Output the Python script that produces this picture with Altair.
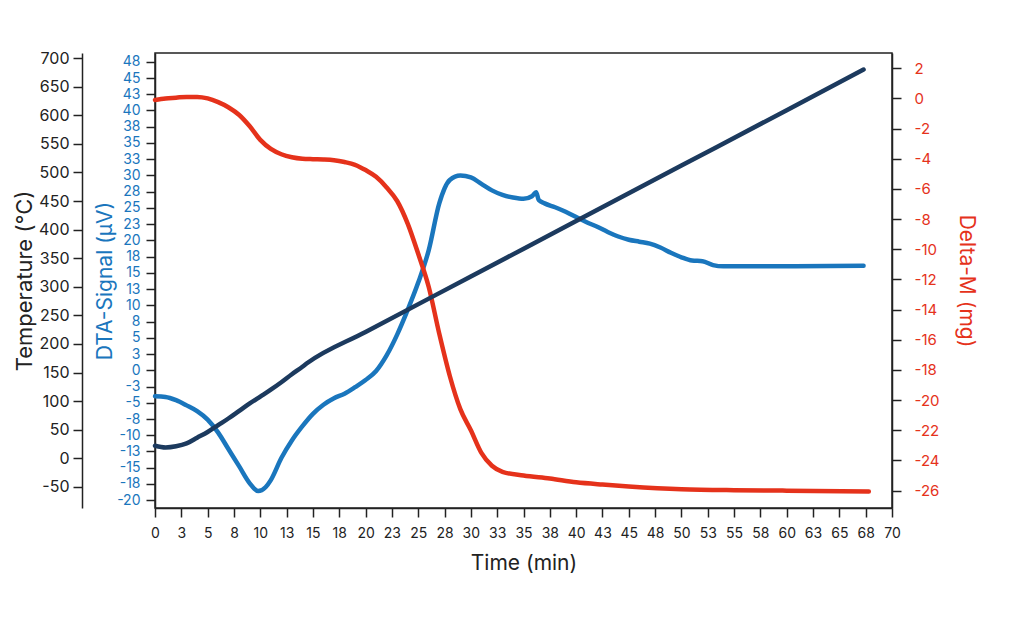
"""Thermal analysis plot: temperature, DTA signal and mass change vs time."""

import altair as alt
import pandas as pd

# Temperature programme (°C)
temp_time = [0, 1, 2, 3, 4, 5, 6, 7, 8, 9, 10, 11, 12, 13, 14, 14.5,
             20, 30, 40, 50, 60, 67.3]
temp_vals = [22, 19, 21, 26, 36, 46, 58, 70, 83, 96, 108, 120, 133, 147, 160, 167,
             221, 318, 415, 512, 609, 680]

# DTA signal (µV)
dta_time = [0, 1, 2, 3, 4, 5, 6, 7, 8, 9, 9.8, 10.5, 11, 12, 13, 14, 15, 16, 17,
            18, 19, 20, 21, 22, 23, 24, 25, 26, 27, 28, 29, 30, 31, 32, 33, 34, 35,
            35.8, 36.2, 36.45, 37, 38, 39, 40, 41, 42, 43, 44, 45, 46, 47, 48, 49,
            50, 51, 52, 53, 54, 60, 67.3]
dta_vals = [-4.0, -4.1, -4.6, -5.4, -6.3, -7.6, -9.6, -12.2, -14.8, -17.4, -18.6,
            -18.0, -16.9, -13.5, -10.8, -8.6, -6.7, -5.3, -4.3, -3.6, -2.6, -1.5,
            -0.1, 2.3, 5.5, 9.3, 13.5, 18.5, 25.7, 29.3, 30.0, 29.7, 28.7, 27.7,
            27.0, 26.6, 26.4, 26.8, 27.4, 26.2, 25.7, 25.1, 24.4, 23.6, 22.8, 22.1,
            21.3, 20.6, 20.1, 19.8, 19.5, 18.9, 18.1, 17.4, 16.9, 16.8, 16.2, 16.0,
            16.0, 16.1]

# Mass change (mg)
dm_time = [0, 1, 2, 3, 4, 5, 6, 7, 8, 9, 10, 11, 12, 13, 14, 15, 16, 17, 18, 19,
           20, 21, 22, 23, 24, 25, 26, 27, 28, 29, 30, 31, 32, 33, 35, 37.5, 40,
           42.5, 45, 50, 55, 60, 67.8]
dm_vals = [-0.1, 0.0, 0.05, 0.1, 0.1, 0.0, -0.25, -0.6, -1.1, -1.85, -2.75, -3.35,
           -3.7, -3.9, -4.0, -4.03, -4.05, -4.1, -4.22, -4.4, -4.75, -5.2, -5.9,
           -6.8, -8.3, -10.3, -12.5, -15.6, -18.4, -20.6, -22.0, -23.5, -24.35,
           -24.75, -25.0, -25.2, -25.45, -25.6, -25.72, -25.9, -25.97, -26.0, -26.06]

x_ticks = [i * 2.5 for i in range(29)]
temp_ticks = list(range(-50, 701, 50))
dta_ticks = [-20 + i * 2.5 for i in range(28)]
dm_ticks = list(range(-26, 3, 2))

NAVY = "#1c3a5e"
BLUE = "#1a76bd"
RED = "#e5321b"
INK = "#222222"

# plain hyphen for negatives, as in the original figure
HYPHEN = "replace(datum.label, '\u2212', '-')"

x_enc = alt.X(
    "time:Q",
    scale=alt.Scale(domain=[0, 70], nice=False),
    axis=alt.Axis(values=x_ticks, format=".0f", title="Time (min)",
                  labelFlush=False, labelPadding=9, titlePadding=12,
                  titleFontSize=21),
)


def series(times, vals, color):
    return alt.Chart(pd.DataFrame({"time": times, "value": vals})).mark_line(
        color=color, strokeWidth=4.5, interpolate="monotone", strokeCap="round"
    )


temp = series(temp_time, temp_vals, NAVY).encode(
    x=x_enc,
    y=alt.Y(
        "value:Q",
        scale=alt.Scale(domain=[-87, 709], nice=False, zero=False),
        axis=alt.Axis(orient="left", offset=73, values=temp_ticks,
                      labelExpr=HYPHEN, labelFontSize=16, labelPadding=4,
                      title="Temperature (°C)", labelColor=INK, titleColor=INK,
                      titleFontSize=22, titlePadding=2),
    ),
)

dta = series(dta_time, dta_vals, BLUE).encode(
    x=x_enc,
    y=alt.Y(
        "value:Q",
        scale=alt.Scale(domain=[-21.2, 48.85], nice=False, zero=False),
        axis=alt.Axis(orient="left", values=dta_ticks, format=".0f",
                      labelExpr=HYPHEN, labelFontSize=14, labelPadding=6,
                      title="DTA-Signal (µV)", labelColor=BLUE, titleColor=BLUE,
                      titleFontSize=21, titlePadding=1),
    ),
)

dm = series(dm_time, dm_vals, RED).encode(
    x=x_enc,
    y=alt.Y(
        "value:Q",
        scale=alt.Scale(domain=[-27.15, 3.01], nice=False, zero=False),
        axis=alt.Axis(orient="right", values=dm_ticks, labelExpr=HYPHEN,
                      labelFontSize=15, labelPadding=13,
                      title="Delta-M (mg)", labelColor=RED, titleColor=RED,
                      titleFontSize=21, titlePadding=16),
    ),
)

chart = (
    alt.layer(dta, dm, temp)
    .resolve_scale(y="independent")
    .properties(
        width=737,
        height=455,
        autosize=alt.AutoSizeParams(type="none"),
        padding={"left": 147, "top": 45, "right": 120, "bottom": 80},
    )
    .configure_view(stroke=INK, strokeWidth=1.5)
    .configure_axis(
        grid=False,
        domainColor=INK,
        domainWidth=1.5,
        tickColor=INK,
        tickWidth=1.5,
        tickSize=9,
        labelFont="Inter",
        labelFontSize=14,
        labelColor=INK,
        titleFont="Inter",
        titleFontSize=20,
        titleFontWeight="normal",
        titleColor=INK,
    )
)

chart.save("out.html", embed_options={"renderer": "svg", "actions": False})
